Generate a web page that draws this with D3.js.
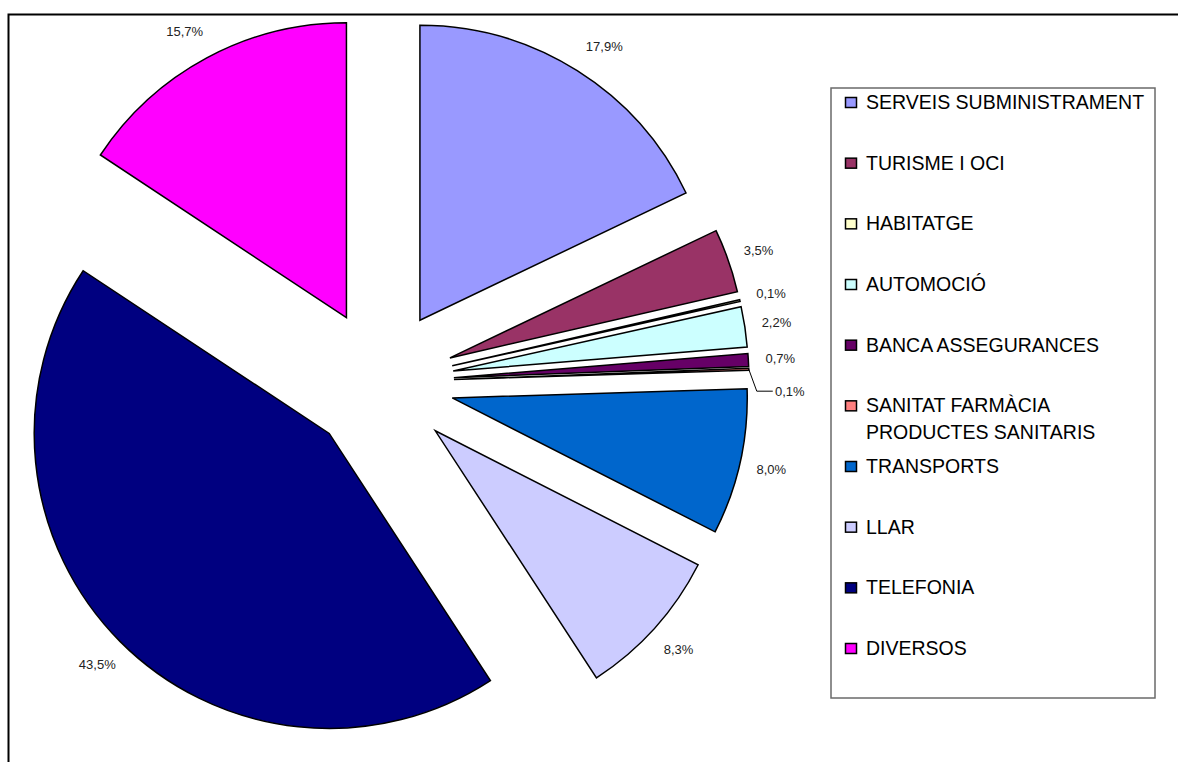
<!DOCTYPE html>
<html>
<head>
<meta charset="utf-8">
<script src="https://cdn.jsdelivr.net/npm/d3@7"></script>
<style>
  html, body { margin: 0; padding: 0; background: #fff; }
  svg { display: block; }
</style>
</head>
<body>
<svg id="chart" width="1178" height="762"></svg>
<script>
const categories = [
  "SERVEIS SUBMINISTRAMENT",
  "TURISME I OCI",
  "HABITATGE",
  "AUTOMOCIÓ",
  "BANCA ASSEGURANCES",
  "SANITAT FARMÀCIA PRODUCTES SANITARIS",
  "TRANSPORTS",
  "LLAR",
  "TELEFONIA",
  "DIVERSOS"
];
const values = [17.9, 3.5, 0.1, 2.2, 0.7, 0.1, 8.0, 8.3, 43.5, 15.7];
const colors = ["#9999FF", "#993366", "#FFFFCC", "#CCFFFF", "#660066",
                "#FF8080", "#0066CC", "#CCCCFF", "#000080", "#FF00FF"];

const font = "'Liberation Sans', Arial, Helvetica, sans-serif";
const svg = d3.select("#chart");

// outer frame (top and left edges visible)
svg.append("path")
  .attr("d", "M8.5,762 L8.5,14.5 L1178,14.5")
  .attr("fill", "none").attr("stroke", "#000").attr("stroke-width", 2);

const cx = 381, cy = 382, R = 295, explode = 73, labelR = 400;

const pie = d3.pie().sort(null).value(d => d)(values);
const arc = d3.arc().innerRadius(0).outerRadius(R);
const dir = a => [Math.sin(a), -Math.cos(a)];

const g = svg.append("g").attr("transform", `translate(${cx},${cy})`);

g.selectAll("path.slice").data(pie).enter().append("path")
  .attr("class", "slice")
  .attr("d", arc)
  .attr("transform", d => {
    const m = (d.startAngle + d.endAngle) / 2, v = dir(m);
    return `translate(${v[0] * explode},${v[1] * explode})`;
  })
  .attr("fill", (d, i) => colors[i])
  .attr("stroke", "#000").attr("stroke-width", 1.5).attr("stroke-linejoin", "miter");

// value labels
const fmt = v => d3.format(".1f")(v).replace(".", ",") + "%";
const nudge = { 0: [10, 3], 5: [9, 23], 9: [-7, 2] };
const leader = { 5: true };
pie.forEach((d, i) => {
  const m = (d.startAngle + d.endAngle) / 2, v = dir(m);
  let x = v[0] * labelR, y = v[1] * labelR;
  if (nudge[i]) { x += nudge[i][0]; y += nudge[i][1]; }
  if (leader[i]) {
    const ex = v[0] * (explode + R), ey = v[1] * (explode + R);
    g.append("path")
      .attr("d", `M${ex},${ey} L${ex + 8},${y} L${x - 17},${y}`)
      .attr("fill", "none").attr("stroke", "#000").attr("stroke-width", 1);
  }
  g.append("text")
    .attr("x", x).attr("y", y).attr("dy", "0.36em")
    .attr("text-anchor", "middle")
    .attr("font-family", font).attr("font-size", 13).attr("fill", "#222")
    .text(fmt(values[i]));
});

// legend
const lg = svg.append("g");
lg.append("rect")
  .attr("x", 831).attr("y", 88).attr("width", 324).attr("height", 610)
  .attr("fill", "#fff").attr("stroke", "#6a6a6a").attr("stroke-width", 1.5);

const legendY = d3.scaleLinear().domain([0, categories.length - 1]).range([102, 648]);
categories.forEach((c, i) => {
  const y = legendY(i);
  lg.append("rect")
    .attr("x", 845.5).attr("y", y - 4.5).attr("width", 11).attr("height", 10)
    .attr("fill", colors[i]).attr("stroke", "#000").attr("stroke-width", 1.5);
  const t = lg.append("text")
    .attr("x", 866).attr("y", y).attr("dy", "0.36em")
    .attr("font-family", font).attr("font-size", 19.5).attr("fill", "#000");
  // simple word wrap
  const words = c.split(" ");
  let line = [], tspan = t.append("tspan").attr("x", 866);
  words.forEach(w => {
    line.push(w);
    tspan.text(line.join(" "));
    if (tspan.node().getComputedTextLength() > 288 && line.length > 1) {
      line.pop();
      tspan.text(line.join(" "));
      line = [w];
      tspan = t.append("tspan").attr("x", 866).attr("dy", "1.38em").text(w);
    }
  });
});
</script>
</body>
</html>
